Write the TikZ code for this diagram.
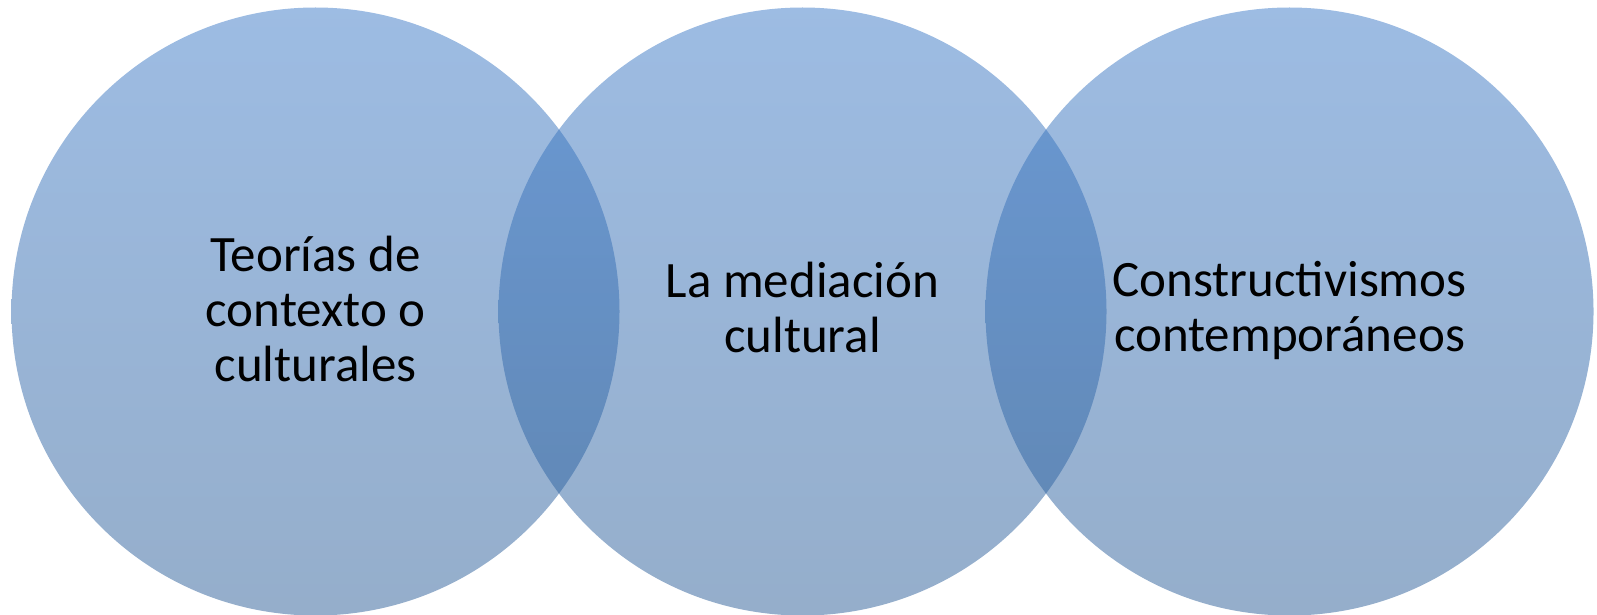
\documentclass[tikz,border=0pt]{standalone}
\usepackage{fontspec}
\setmainfont{Carlito}
\definecolor{ctop}{RGB}{59,121,199}
\definecolor{cbot}{RGB}{43,93,151}
\tikzset{
  venn/.style={circle, inner sep=0pt, minimum size=608pt, draw=none,
    top color=ctop, bottom color=cbot, fill opacity=0.5},
  lbl/.style={align=center, font=\fontsize{51}{55}\selectfont, text=black, inner sep=0pt}
}
\begin{document}
\begin{tikzpicture}[x=1pt,y=-1pt]
\useasboundingbox (0,0) rectangle (1597,615);
\node[venn] (c1) at (315.5,311.5) {};
\node[venn] (c2) at (802.5,311.5) {};
\node[venn] (c3) at (1289.5,311.5) {};
\node[lbl, anchor=base] (t1) at (315.5,381) {Teorías de\\contexto o\\culturales};
\node[lbl, anchor=base] (t2) at (802.5,352) {La mediación\\cultural};
\node[lbl, anchor=base] (t3) at (1289.5,351) {Constructivismos\\contemporáneos};
\end{tikzpicture}
\end{document}
